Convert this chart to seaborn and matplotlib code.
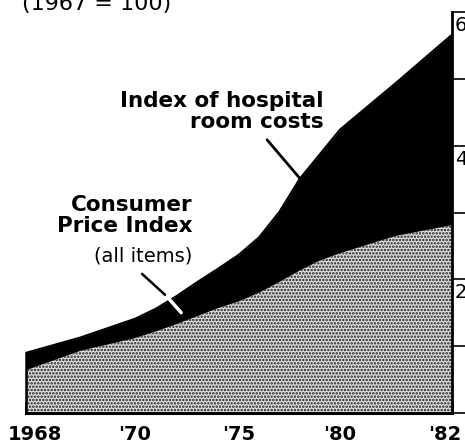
import numpy as np
import pandas as pd
import matplotlib
matplotlib.use('Agg')
import matplotlib.pyplot as plt
import matplotlib.transforms as mtransforms
import seaborn as sns

# values, index 1967 = 100
years = [1968, 1969, 1970, 1971, 1972, 1973, 1974, 1975,
         1976, 1977, 1978, 1979, 1980, 1981, 1982]
hospital = [90, 113, 141, 156, 175, 196, 216, 237, 263, 301, 350, 387, 424, 494, 566]
cpi = [64, 93, 112, 122, 133, 145, 157, 167, 180, 196, 213, 228, 239, 265, 281]

tick_years = [1968, 1970, 1975, 1980, 1982]
tick_labels = ['1968', "'70", "'75", "'80", "'82"]
y_ticks = [0, 100, 200, 300, 400, 500, 600]
y_labels = ['', '', '200', '', '400', '', '600']

df = pd.DataFrame({'year': years, 'hospital': hospital, 'cpi': cpi})

sns.set_theme(style='white', rc={'axes.edgecolor': 'black', 'text.color': 'black',
                                 'xtick.color': 'black', 'ytick.color': 'black',
                                 'hatch.linewidth': 1.2})

fig = plt.figure(figsize=(4.65, 4.47), dpi=100)
ax = fig.add_axes([26/465, 34/447, 426/465, 401/447])

# the printed time axis isn't linear - each labelled span gets about the same width
knots = [0, 0.256, 0.5, 0.737, 1.0]
def fwd(x):
    return np.interp(x, tick_years, knots)
def inv(u):
    return np.interp(u, knots, tick_years)
ax.set_xscale('function', functions=(fwd, inv))

# black band = hospital costs, stippled area = CPI on top of it
ax.fill_between(df.year, 0, df.hospital, color='black', lw=0)
ax.fill_between(df.year, 0, df.cpi, facecolor='#e0e0e0', hatch='.....',
                edgecolor='#1a1a1a', lw=0)
sns.lineplot(data=df, x='year', y='hospital', color='black', lw=1.5, ax=ax)

ax.set_xlim(1968, 1982)
ax.set_ylim(0, 600)
ax.set_xlabel('')
ax.set_ylabel('')

ax.spines['top'].set_visible(False)
ax.spines['right'].set_linewidth(2)
ax.spines['bottom'].set_linewidth(2.2)
ax.spines['left'].set_linewidth(1.8)
ax.spines['left'].set_bounds(0, hospital[0])

ax.yaxis.tick_right()
ax.set_yticks(y_ticks)
ax.set_yticklabels(y_labels)
ax.tick_params(axis='y', direction='out', length=10, width=1.2,
               pad=-8, labelsize=14, right=True, left=False)
for t in ax.get_yticklabels():
    t.set_va('top')
    t.set_transform(t.get_transform() + mtransforms.ScaledTranslation(0, -0.04, fig.dpi_scale_trans))

ax.set_xticks(tick_years)
ax.set_xticklabels(tick_labels, fontweight='bold')
ax.tick_params(axis='x', direction='in', length=8, width=2,
               pad=9, labelsize=14, bottom=True)
xl = ax.get_xticklabels()
xl[0].set_transform(xl[0].get_transform() + mtransforms.ScaledTranslation(0.09, 0, fig.dpi_scale_trans))
xl[-1].set_transform(xl[-1].get_transform() + mtransforms.ScaledTranslation(-0.07, 0, fig.dpi_scale_trans))

# labels and leader lines
ax.text(1979.2, 451, 'Index of hospital\nroom costs', ha='right', va='center',
        fontsize=15.5, fontweight='bold', linespacing=1.05)
ax.annotate('', xy=(1978.1, 348), xytext=(1976.3, 412),
            arrowprops=dict(arrowstyle='-', lw=2, color='black'))

ax.text(1972.74, 296, 'Consumer\nPrice Index', ha='right', va='center',
        fontsize=15.5, fontweight='bold', linespacing=1.05)
ax.text(1972.74, 235, '(all items)', ha='right', va='center', fontsize=14)
ax.annotate('', xy=(1971.54, 174), xytext=(1970.24, 211),
            arrowprops=dict(arrowstyle='-', lw=1.8, color='black'))
ax.annotate('', xy=(1972.31, 147), xytext=(1971.54, 174),
            arrowprops=dict(arrowstyle='-', lw=2.5, color='white'))

fig.text(22/465, 1 - 10/447, '(1967 = 100)', fontsize=16, ha='left', va='baseline')

fig.savefig('out.png', dpi=100)
